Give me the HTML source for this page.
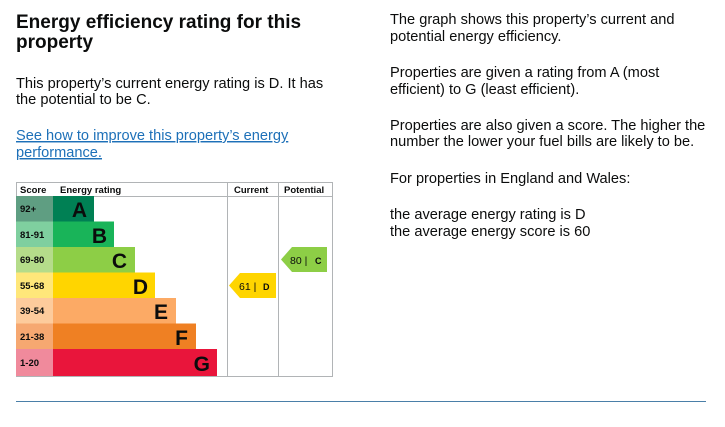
<!DOCTYPE html>
<html><head><meta charset="utf-8"><style>
html,body{margin:0;padding:0;background:#fff;width:725px;height:427px;overflow:hidden}
svg{display:block}
text{font-family:"Liberation Sans",Arial,sans-serif}
</style></head><body>
<svg width="725" height="427" viewBox="0 0 725 427" xmlns="http://www.w3.org/2000/svg">
<g fill="#0b0c0c">
<text x="16" y="28" font-size="19" font-weight="bold">Energy efficiency rating for this</text>
<text x="16" y="48" font-size="19" font-weight="bold">property</text>
<text x="16" y="88" font-size="14.6">This property’s current energy rating is D. It has</text>
<text x="16" y="104" font-size="14.6">the potential to be C.</text>
</g>
<g fill="#1d70b8" font-size="14.6">
<text x="16" y="140" text-decoration="underline">See how to improve this property’s energy</text>
<text x="16" y="157" text-decoration="underline">performance.</text>
</g>
<g fill="#0b0c0c" font-size="14.6">
<text x="390" y="24">The graph shows this property’s current and</text>
<text x="390" y="41">potential energy efficiency.</text>
<text x="390" y="77">Properties are given a rating from A (most</text>
<text x="390" y="94">efficient) to G (least efficient).</text>
<text x="390" y="130">Properties are also given a score. The higher the</text>
<text x="390" y="146">number the lower your fuel bills are likely to be.</text>
<text x="390" y="183">For properties in England and Wales:</text>
<text x="390" y="219">the average energy rating is D</text>
<text x="390" y="236">the average energy score is 60</text>
</g>
<rect x="16.5" y="182.5" width="316" height="194" fill="#fff" stroke="#b1b4b6"/>
<line x1="16" y1="196.5" x2="332" y2="196.5" stroke="#b1b4b6"/>
<line x1="227.5" y1="182" x2="227.5" y2="377" stroke="#b1b4b6"/>
<line x1="278.5" y1="182" x2="278.5" y2="377" stroke="#b1b4b6"/>
<g font-size="9.5" font-weight="bold" fill="#0b0c0c">
<text x="20" y="193">Score</text>
<text x="60" y="193">Energy rating</text>
<text x="234" y="193">Current</text>
<text x="284" y="193">Potential</text>
</g>
<g>
<rect x="16" y="196" width="37" height="25.5" fill="#5f9e82"/><rect x="53" y="196" width="41" height="25.5" fill="#008054"/>
<rect x="16" y="221.5" width="37" height="25.5" fill="#7fcf9f"/><rect x="53" y="221.5" width="61" height="25.5" fill="#19b459"/>
<rect x="16" y="247" width="37" height="25.5" fill="#b5dc8a"/><rect x="53" y="247" width="82" height="25.5" fill="#8dce46"/>
<rect x="16" y="272.5" width="37" height="25.5" fill="#ffe77a"/><rect x="53" y="272.5" width="102" height="25.5" fill="#ffd500"/>
<rect x="16" y="298" width="37" height="25.5" fill="#fdcb9c"/><rect x="53" y="298" width="123" height="25.5" fill="#fcaa65"/>
<rect x="16" y="323.5" width="37" height="25.5" fill="#f6a871"/><rect x="53" y="323.5" width="143" height="25.5" fill="#ef8023"/>
<rect x="16" y="349" width="37" height="27" fill="#f08a9c"/><rect x="53" y="349" width="164" height="27" fill="#e9153b"/>
</g>
<g font-size="9.5" font-weight="bold" fill="#0b0c0c">
<text x="20" y="212">92+</text><text x="20" y="238">81-91</text><text x="20" y="263">69-80</text>
<text x="20" y="289">55-68</text><text x="20" y="314">39-54</text><text x="20" y="340">21-38</text><text x="20" y="366">1-20</text>
</g>
<g font-size="21" font-weight="bold" fill="#0b0c0c" text-anchor="end">
<text x="87" y="217">A</text><text x="107" y="243">B</text><text x="127" y="268">C</text>
<text x="148" y="294">D</text><text x="168" y="319">E</text><text x="188" y="345">F</text><text x="210" y="371">G</text>
</g>
<polygon points="229,285.5 240,273 276,273 276,298 240,298" fill="#ffd500"/>
<text x="239" y="290" font-size="10.5" fill="#0b0c0c">61 |</text>
<text x="263" y="290" font-size="9" font-weight="bold" fill="#0b0c0c">D</text>
<polygon points="281,259.5 292,247 327,247 327,272 292,272" fill="#8dce46"/>
<text x="290" y="264" font-size="10.5" fill="#0b0c0c">80 |</text>
<text x="315" y="264" font-size="9" font-weight="bold" fill="#0b0c0c">C</text>
<line x1="16" y1="401.5" x2="706" y2="401.5" stroke="#4a7fa8" stroke-width="1"/>
</svg>
</body></html>
